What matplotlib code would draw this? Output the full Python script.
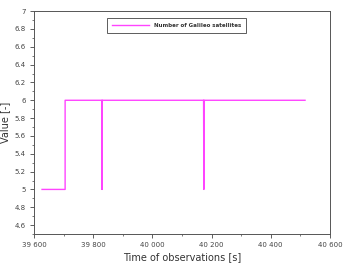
import matplotlib
matplotlib.use('Agg')
import matplotlib.pyplot as plt
from matplotlib.ticker import MultipleLocator, FuncFormatter

# observation times [s] and number of Galileo satellites
time = [39627, 39705, 39705, 39830, 39830, 39830, 40173, 40174, 40174, 40175, 40175, 40516]
value = [5, 5, 6, 6, 5, 6, 6, 5, 6, 5.3, 6, 6]

x_ticks = [39600, 39800, 40000, 40200, 40400, 40600]
y_ticks = [4.6, 4.8, 5, 5.2, 5.4, 5.6, 5.8, 6, 6.2, 6.4, 6.6, 6.8, 7]

fig = plt.figure(figsize=(3.44, 2.65), dpi=100)
ax = fig.add_axes([0.099, 0.117, 0.86, 0.841])

ax.plot(time, value, color='#ff44ff', lw=1.0, label='Number of Galileo satellites')

ax.set_xlim(39600, 40600)
ax.set_ylim(4.5, 7)
ax.set_xticks(x_ticks)
ax.set_yticks(y_ticks)
ax.xaxis.set_minor_locator(MultipleLocator(100))
ax.yaxis.set_minor_locator(MultipleLocator(0.1))
ax.xaxis.set_major_formatter(FuncFormatter(lambda v, p: f"{int(v):,}".replace(',', ' ')))
ax.yaxis.set_major_formatter(FuncFormatter(lambda v, p: f"{v:g}"))

ax.tick_params(which='major', length=3, width=0.6, labelsize=5, colors='#444444', pad=3)
ax.tick_params(which='minor', length=1.5, width=0.5, colors='#444444')
for s in ax.spines.values():
    s.set_linewidth(0.7)
    s.set_color('#555555')

ax.set_xlabel('Time of observations [s]', fontsize=7, color='#333333', labelpad=3)
ax.set_ylabel('Value [-]', fontsize=7, color='#333333')
ax.yaxis.set_label_coords(-0.08, 0.5)

leg = ax.legend(loc='upper center', bbox_to_anchor=(0.483, 0.969), fontsize=4.0,
                frameon=True, fancybox=False, handlelength=6.5, handletextpad=1.0,
                borderpad=0.9, borderaxespad=0)
leg.get_frame().set_edgecolor('#333333')
leg.get_frame().set_linewidth(0.7)
for t in leg.get_texts():
    t.set_fontweight('bold')
    t.set_color('#333333')

fig.savefig('out.png', dpi=100)
